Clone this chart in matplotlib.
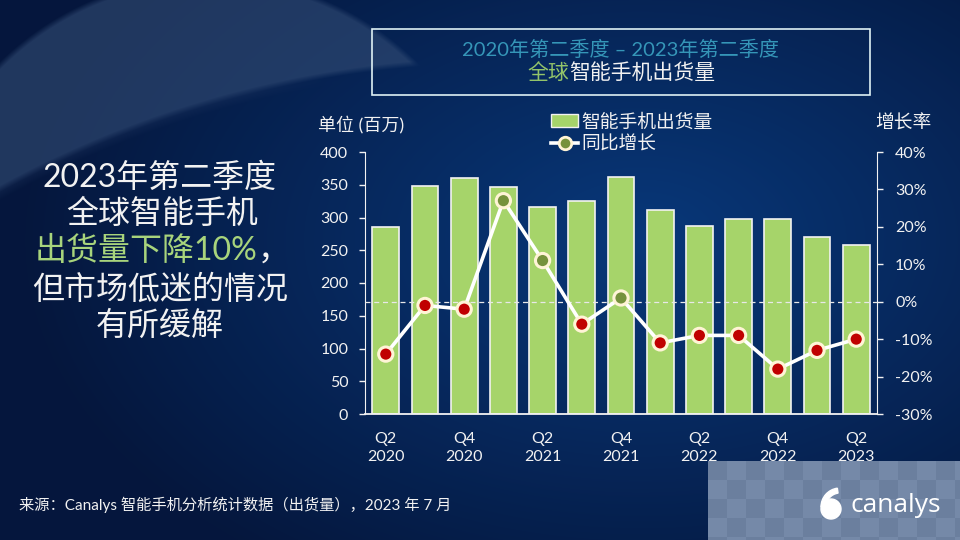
import numpy as np
import matplotlib
matplotlib.use('Agg')
from matplotlib import pyplot as plt
from matplotlib.patches import Rectangle, Patch, Circle, Wedge
from matplotlib.lines import Line2D

plt.rcParams['font.family'] = ['Lato', 'Noto Sans CJK SC', 'DejaVu Sans']

# Data
quarters = ['Q2\n2020', '', 'Q4\n2020', '', 'Q2\n2021', '', 'Q4\n2021', '',
            'Q2\n2022', '', 'Q4\n2022', '', 'Q2\n2023']
shipments = [285.4, 348.1, 359.6, 347.2, 316.2, 325.3, 362.4, 311.5,
             287.6, 297.8, 297.1, 269.8, 258.3]
growth = [-14, -1, -2, 27, 11, -6, 1, -11, -9, -9, -18, -13, -10]
left_ticks = [0, 50, 100, 150, 200, 250, 300, 350, 400]
right_ticks = [-30, -20, -10, 0, 10, 20, 30, 40]

WHITE = '#f2f2f2'
BAR = '#a6d46a'
RED = '#c00000'
OLIVE = '#76923c'
RING = '#fff4d6'

fig = plt.figure(figsize=(9.6, 5.4), dpi=100)

# Background (pixel coordinates)
bg = fig.add_axes([0, 0, 1, 1])
bg.set_zorder(-5)
yy, xx = np.mgrid[0:540, 0:960].astype(float)
d = np.sqrt(((xx - 640) / 560) ** 2 + ((yy - 240) / 360) ** 2)
t = np.clip(d, 0, 1.1) / 1.1
inner = np.array([0.03, 0.22, 0.48])
outer = np.array([0.02, 0.09, 0.24])
img = inner * (1 - t[..., None]) + outer * t[..., None]

def smooth(v, w):
    return np.clip(0.5 + v / w, 0, 1)

# lighter left area and swoosh band
e = np.sqrt(((xx - 160) / 330) ** 2 + ((yy - 360) / 300) ** 2)
m_left = smooth(1 - e, 0.15)
dA = np.sqrt((xx - 208) ** 2 + (yy - 274) ** 2)
dB = np.sqrt((xx - 500) ** 2 + (yy - 1100) ** 2)
m_band = smooth(295 - dA, 6) * smooth(dB - 1040, 6)
m_left = m_left * (1 - m_band) * smooth(dB - 1040, 20)
light = np.array([0.16, 0.25, 0.42])
img = img * (1 - 0.55 * m_left[..., None]) + light * 0.55 * m_left[..., None]
band = np.array([0.20, 0.30, 0.46])
img = img * (1 - 0.6 * m_band[..., None]) + band * 0.6 * m_band[..., None]

# checker tiles behind the logo
tile = 19
cx = ((xx - 708) // tile).astype(int)
cy = ((yy - 461) // tile).astype(int)
mask = (xx >= 708) & (yy >= 461)
c1 = np.array([0.42, 0.50, 0.62])
c2 = np.array([0.46, 0.54, 0.66])
chk = np.where(((cx + cy) % 2 == 0)[..., None], c1, c2)
img[mask] = chk[mask]

bg.imshow(img, extent=(0, 960, 540, 0), aspect='auto', interpolation='bilinear')
bg.set_xlim(0, 960)
bg.set_ylim(540, 0)
bg.axis('off')

# Title box
bg.add_patch(Rectangle((372, 29), 498, 66, fill=False, edgecolor='#dff1f4', lw=1.2))
bg.text(621, 49, '2020年第二季度 – 2023年第二季度', color='#3596b8', fontsize=14.5,
        ha='center', va='center')
t2 = bg.text(642, 73, '智能手机出货量', color=WHITE, fontsize=15, ha='center', va='center')
bg.annotate('全球', xy=(0, 0.5), xycoords=t2, color='#93c46a', fontsize=15,
            ha='right', va='center')

# Headline on the left
hl = 23
bg.text(160, 178, '2023年第二季度', color=WHITE, fontsize=hl, ha='center', va='center')
bg.text(162, 214, '全球智能手机', color=WHITE, fontsize=hl, ha='center', va='center')
g = bg.text(146, 251, '出货量下降10%', color='#a8d47c', fontsize=hl, ha='center', va='center')
bg.annotate('，', xy=(1, 0.5), xycoords=g, color=WHITE, fontsize=hl, ha='left', va='center')
bg.text(160, 290, '但市场低迷的情况', color=WHITE, fontsize=hl, ha='center', va='center')
bg.text(160, 326, '有所缓解', color=WHITE, fontsize=hl, ha='center', va='center')

# Footer
bg.text(19, 505, '来源：Canalys 智能手机分析统计数据（出货量），2023 年 7 月', color=WHITE,
        fontsize=11, ha='left', va='center')

# Canalys logo
bg.add_patch(Circle((831, 509), 10, color='white'))
bg.add_patch(Wedge((840, 507), 19, 180, 262, width=5, color='white'))
bg.text(851, 506, 'canalys', color='white', fontsize=19, family='Open Sans',
        ha='left', va='center')

# Axis labels
bg.text(318, 124, '单位 (百万)', color=WHITE, fontsize=13, ha='left', va='center')
bg.text(875, 123, '增长率', color=WHITE, fontsize=13.5, ha='left', va='center')

# Chart
ax = fig.add_axes([365 / 960, 1 - 414 / 540, (877 - 365) / 960, 262 / 540])
ax.patch.set_alpha(0)
x = np.arange(len(shipments))
ax.bar(x, shipments, width=0.68, color=BAR, edgecolor=WHITE, linewidth=1.2, zorder=2)
ax.set_xlim(-0.53, len(shipments) - 0.47)
ax.set_ylim(0, 400)
ax.set_yticks(left_ticks)
ax.set_xticks(x)
ax.set_xticklabels(quarters, linespacing=1.35)
ax.tick_params(axis='x', length=0, pad=13, colors=WHITE, labelsize=11.5)
ax.tick_params(axis='y', length=4, width=1, pad=8, colors=WHITE, labelsize=11.5)
for s in ['top', 'right']:
    ax.spines[s].set_visible(False)
ax.spines['left'].set_color(WHITE)
ax.spines['bottom'].set_color(WHITE)
ax.spines['bottom'].set_linewidth(1.3)

ax2 = ax.twinx()
ax2.patch.set_alpha(0)
ax2.set_ylim(-30, 40)
ax2.set_yticks(right_ticks)
ax2.set_yticklabels(['{}%'.format(v) for v in right_ticks])
ax2.tick_params(axis='y', length=4, width=1, pad=9, colors=WHITE, labelsize=11.5)
for s in ['top', 'left', 'bottom']:
    ax2.spines[s].set_visible(False)
ax2.spines['right'].set_color(WHITE)
ax2.axhline(0, color='#e8e8e8', lw=0.9, ls=(0, (4, 3)), zorder=1)
ax2.plot(x, growth, color='white', lw=2.6, zorder=3)
cols = [RED if v < 0 else OLIVE for v in growth]
ax2.scatter(x, growth, s=105, c=cols, edgecolors=RING, linewidths=2.2, zorder=4)

# Legend
handles = [Patch(facecolor=BAR, edgecolor=WHITE, linewidth=1),
           Line2D([], [], color='white', lw=2.6, marker='o', markersize=9,
                  markerfacecolor=OLIVE, markeredgecolor=RING, markeredgewidth=2)]
leg = fig.legend(handles, ['智能手机出货量', '同比增长'], loc='upper left',
                 bbox_to_anchor=(551 / 960, 1 - 113 / 540), frameon=False,
                 fontsize=13.5, handlelength=1.45, handletextpad=0.15,
                 labelspacing=0.25, borderpad=0, borderaxespad=0)
for txt in leg.get_texts():
    txt.set_color(WHITE)

fig.savefig('out.png', dpi=100)
